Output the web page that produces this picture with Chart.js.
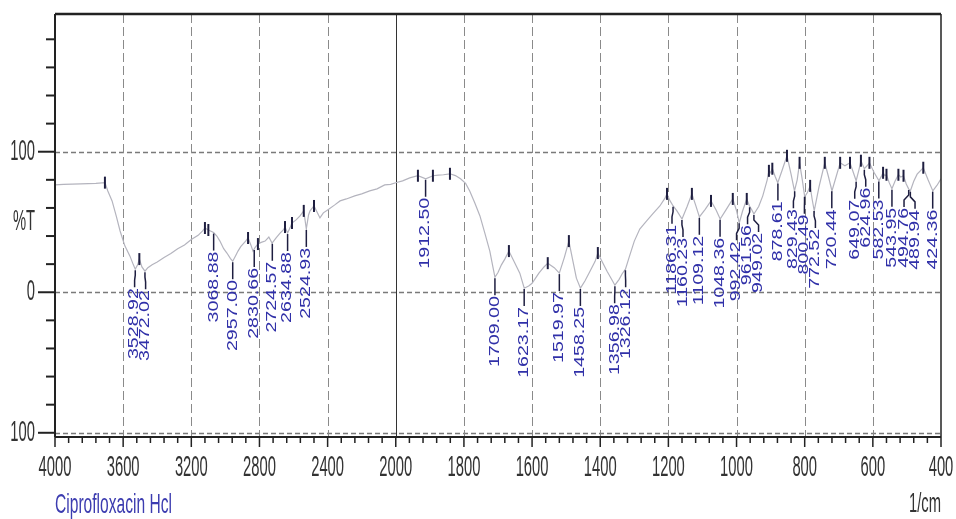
<!DOCTYPE html>
<html><head><meta charset="utf-8">
<script src="https://cdn.jsdelivr.net/npm/chart.js@4/dist/chart.umd.min.js"></script>
<style>html,body{margin:0;padding:0;background:#fff;overflow:hidden}canvas{display:block}</style>
</head><body>
<canvas id="c" width="956" height="519"></canvas>
<script>
// ---- DATA ----
const wavenumbers = [4000,3950,3850,3760,3707,3690,3665,3640,3618,3590,3560,3540,3529,3515,3505,3490,3472,3455,3430,3400,3360,3320,3280,3240,3200,3160,3135,3120,3100,3069,3050,3032,3010,2991,2970,2957,2940,2926,2910,2897,2880,2867,2850,2838,2825,2809,2790,2767,2745,2726,2700,2679,2660,2650,2635,2620,2609,2585,2562,2540,2525,2512,2503,2480,2460,2445,2425,2400,2360,2327,2290,2241,2200,2153,2110,2065,2030,2000,1980,1959,1935,1912,1891,1875,1860,1841,1825,1810,1795,1783,1768,1753,1738,1724,1715,1709,1700,1690,1680,1668,1655,1636,1623,1610,1600,1580,1565,1554,1535,1520,1505,1492,1480,1470,1458,1445,1430,1415,1407,1395,1380,1365,1357,1345,1336,1326,1315,1300,1284,1265,1246,1225,1210,1204,1195,1186,1175,1160,1145,1131,1120,1109,1092,1075,1060,1048,1030,1011,1000,992,982,970,962,955,949,935,923,910,905,900,895,887,879,866,852,840,830,822,815,807,800,792,784,778,772,758,741,730,720,708,696,682,667,657,649,640,635,625,617,610,596,582,574,570,565,560,552,544,535,525,518,510,502,495,490,480,470,452,438,424,412,400];
const transmittance = [76.4,76.8,77.1,77.5,78.0,72,65,54,43.6,33,25.7,19.5,16.4,19.5,23.6,18,15.0,17.5,19.6,21.5,24.8,27.5,31.0,33.6,37.5,40.5,43.5,45.7,44.3,42.5,40,36.4,31,27.9,24,22.1,26,29.3,32.5,34.3,36.5,38.6,33.5,29.3,32,34.3,35.5,36.4,39.3,35.0,39,42.1,44.3,46.4,42.1,46,49.3,51.5,54.3,57.9,45,55,57.9,61.4,56.5,52.9,56.5,58.6,62,65,66.4,68.6,70,72.1,73.6,76.4,76.8,77.9,79.3,81.4,82.9,80.7,82.9,83.3,83.6,84.3,83,80.7,77.5,72.1,63.5,54.3,41.5,29.3,18,10.7,14,19.5,23.6,29.3,23,13.6,2.9,4.5,6.4,13.6,18,20.7,17.5,13.6,25,36.4,22,10,2.9,8,15,22,27.9,22,15,8.5,5,9,13,16.4,25,36.4,45,50.5,55.7,61.4,67,70,65,61.4,57.9,52.1,61,70,62,53.6,59,65,58.5,52.1,59,66.4,58,49.3,58,66.4,61.4,58.5,55.7,61,68.6,80,86.4,85,87.9,82.5,77.9,87,97.1,84,72.1,80,92.1,80,67.9,71,75.7,66,57.9,75,92.1,82,72.1,82,92.1,90,92.1,85,79.3,88,93.6,87.9,90,92.1,85,79.3,83,85,83,83.6,78,73.6,79,83.6,82,82.9,77,73.6,72.1,79,84,88.6,80,72.1,76,80.7];
const peakWavenumbers = [3528.92,3472.02,3068.88,2957.00,2830.66,2724.57,2634.88,2524.93,1912.50,1709.00,1623.17,1519.97,1458.25,1356.98,1326.12,1186.31,1160.23,1109.12,1048.36,992.42,961.56,949.02,878.61,829.43,800.49,772.52,720.44,649.07,624.96,582.53,543.95,494.76,489.94,424.36];
const peakLabels = ["3528.92","3472.02","3068.88","2957.00","2830.66","2724.57","2634.88","2524.93","1912.50","1709.00","1623.17","1519.97","1458.25","1356.98","1326.12","1186.31","1160.23","1109.12","1048.36","992.42","961.56","949.02","878.61","829.43","800.49","772.52","720.44","649.07","624.96","582.53","543.95","494.76","489.94","424.36"];
const maxMarkerWavenumbers = [3707,3505,3120,3100,2867,2809,2650,2609,2540,2480,1935,1891,1841,1668,1554,1492,1407,1204,1131,1075,1011,970,905,895,852,815,784,741,696,667,635,610,570,560,525,510,452];
const xTickLabels = [4000,3600,3200,2800,2400,2000,1800,1600,1400,1200,1000,800,600,400];
const yTickValues = [-100,-80,-60,-40,-20,0,20,40,60,80,100,120,140,160,180];
const yLabelValues = [100,0,-100];
const yLabelTexts = ["100","0","100"];
const sampleName = "Ciprofloxacin Hcl";
const xUnit = "1/cm";
const yTitle = "%T";

// piecewise axis (scale change at 2000 1/cm)
function toAxis(w){ return w >= 2000 ? (4000 - w) / 400 : 5 + (2000 - w) / 200; }
function interpT(w){
  for (let i = 0; i < wavenumbers.length - 1; i++) {
    const a = wavenumbers[i], b = wavenumbers[i+1];
    if (w <= a && w >= b) {
      const f = (a - w) / (a - b);
      return transmittance[i] + f * (transmittance[i+1] - transmittance[i]);
    }
  }
  return transmittance[transmittance.length - 1];
}

const points = wavenumbers.map((w, i) => ({x: toAxis(w), y: transmittance[i]}));

const ctx0 = document.getElementById('c').getContext('2d');
const NARROW = '"Liberation Sans Narrow", "Liberation Sans", Arial, sans-serif';
ctx0.font = '18px ' + NARROW; const wN = ctx0.measureText('4000').width;
ctx0.font = '18px "Liberation Sans", Arial, sans-serif'; const wR = ctx0.measureText('4000').width;
const SX = Math.abs(wN - wR) < 0.5 ? 0.82 : 1;

function stretchText(ctx, text, x, y, align, font, color, sx, sy){
  ctx.save();
  ctx.translate(x, y);
  ctx.scale(sx, sy);
  ctx.font = font; ctx.fillStyle = color;
  ctx.textAlign = align; ctx.textBaseline = 'middle';
  ctx.fillText(text, 0, 0);
  ctx.restore();
}

const irPlugin = {
  id: 'ir',
  beforeDatasetsDraw(chart){
    const {ctx, chartArea: a, scales: {x, y}} = chart;
    ctx.save();
    ctx.strokeStyle = '#7a7a7a'; ctx.lineWidth = 1.5; ctx.setLineDash([5,3]);
    yLabelValues.forEach(v => {
      const py = Math.round(y.getPixelForValue(v)) + 0.5;
      ctx.beginPath(); ctx.moveTo(a.left, py); ctx.lineTo(a.right, py); ctx.stroke();
    });
    x.ticks.forEach(t => {
      if (t.value === 0 || t.value === 13) return;
      const px = Math.round(x.getPixelForValue(t.value)) + 0.5;
      if (t.value === 5) { ctx.setLineDash([]); ctx.strokeStyle = '#333'; ctx.lineWidth = 1; }
      else { ctx.setLineDash([9,4]); ctx.strokeStyle = '#8a8a8a'; ctx.lineWidth = 1; }
      ctx.beginPath(); ctx.moveTo(px, a.top); ctx.lineTo(px, a.bottom); ctx.stroke();
    });
    ctx.restore();
  },
  afterDatasetsDraw(chart){
    const {ctx, chartArea: a, scales: {x, y}} = chart;
    ctx.save();
    ctx.setLineDash([]);
    ctx.strokeStyle = '#222';
    ctx.lineWidth = 2.5; ctx.beginPath(); ctx.moveTo(a.left, a.top); ctx.lineTo(a.right, a.top); ctx.stroke();
    ctx.lineWidth = 1.5; ctx.beginPath(); ctx.moveTo(a.right, a.top); ctx.lineTo(a.right, a.bottom); ctx.stroke();
    ctx.lineWidth = 2; ctx.beginPath(); ctx.moveTo(a.left, a.top); ctx.lineTo(a.left, a.bottom); ctx.stroke();
    ctx.lineWidth = 2; ctx.beginPath(); ctx.moveTo(a.left, a.bottom); ctx.lineTo(a.right, a.bottom); ctx.stroke();
    ctx.lineWidth = 2;
    y.ticks.forEach(t => {
      const py = y.getPixelForValue(t.value);
      const major = yLabelValues.includes(t.value);
      ctx.beginPath(); ctx.moveTo(a.left - (major ? 17 : 9), py); ctx.lineTo(a.left, py); ctx.stroke();
    });
    ctx.lineWidth = 1.5;
    for (let k = 0; k <= 65; k++) {
      const px = x.getPixelForValue(k * 0.2);
      const major = k % 5 === 0;
      ctx.beginPath(); ctx.moveTo(px, a.bottom); ctx.lineTo(px, a.bottom + (major ? 10 : 6)); ctx.stroke();
    }
    const axisFont = '18px ' + NARROW;
    x.ticks.forEach((t, i) => {
      stretchText(ctx, String(xTickLabels[i]), x.getPixelForValue(t.value), a.bottom + 31, 'center', axisFont, '#333', SX, 1.65);
    });
    yLabelValues.forEach((v, i) => {
      stretchText(ctx, yLabelTexts[i], 35, y.getPixelForValue(v), 'right', axisFont, '#333', SX, 1.6);
    });
    stretchText(ctx, yTitle, 24, y.getPixelForValue(50), 'center', axisFont, '#333', SX, 1.6);
    stretchText(ctx, sampleName, a.left, 505, 'left', '19px ' + NARROW, '#3c3cb0', SX, 1.5);
    stretchText(ctx, xUnit, a.right, 505, 'right', '18px ' + NARROW, '#333', SX, 1.5);

    ctx.strokeStyle = '#1e1e40'; ctx.lineWidth = 2;
    maxMarkerWavenumbers.forEach(w => {
      const px = x.getPixelForValue(toAxis(w)), py = y.getPixelForValue(interpT(w));
      ctx.beginPath(); ctx.moveTo(px, py - 6); ctx.lineTo(px, py + 6); ctx.stroke();
    });
    const items = peakWavenumbers.map((w, i) => {
      const px = x.getPixelForValue(toAxis(w));
      return {px, lx: px, py: y.getPixelForValue(interpT(w)), text: peakLabels[i]};
    }).sort((p, q) => p.px - q.px);
    const GAP = 11;
    for (let it = 0; it < 60; it++) {
      for (let i = 0; i < items.length - 1; i++) {
        const d = items[i+1].lx - items[i].lx;
        if (d < GAP) { const s = (GAP - d) / 2; items[i].lx -= s; items[i+1].lx += s; }
      }
    }
    items.forEach(p => {
      ctx.strokeStyle = '#1e1e40'; ctx.lineWidth = 1.5;
      ctx.beginPath();
      ctx.moveTo(p.px, p.py + 1);
      ctx.lineTo(p.px, p.py + 6);
      ctx.lineTo(p.lx, p.py + 11);
      ctx.lineTo(p.lx, p.py + 18);
      ctx.stroke();
      ctx.save();
      ctx.translate(p.lx, p.py + 19);
      ctx.rotate(-Math.PI / 2);
      ctx.scale(1.4, 1);
      ctx.font = '14px "Liberation Sans", Arial, sans-serif';
      ctx.fillStyle = '#3030a8';
      ctx.textAlign = 'right'; ctx.textBaseline = 'middle';
      ctx.fillText(p.text, 0, 0);
      ctx.restore();
    });
    ctx.restore();
  }
};

new Chart(document.getElementById('c'), {
  type: 'line',
  data: { datasets: [{ data: points, borderColor: '#b4b4be', borderWidth: 1.2, pointRadius: 0, fill: false, tension: 0 }] },
  options: {
    responsive: false, devicePixelRatio: 1, animation: false,
    layout: { padding: { left: 0, right: 15, top: 14, bottom: 0 } },
    plugins: { legend: { display: false }, tooltip: { enabled: false }, title: { display: false } },
    scales: {
      x: {
        type: 'linear', min: 0, max: 13, position: 'bottom',
        afterBuildTicks: s => { s.ticks = xTickLabels.map(w => ({ value: toAxis(w) })); },
        afterFit: s => { s.height = 82; },
        ticks: { display: false }, grid: { display: false }, border: { display: false }
      },
      y: {
        type: 'linear', min: -103, max: 198, position: 'left',
        afterBuildTicks: s => { s.ticks = yTickValues.map(v => ({ value: v })); },
        afterFit: s => { s.width = 55; },
        ticks: { display: false }, grid: { display: false }, border: { display: false }
      }
    }
  },
  plugins: [irPlugin]
});
</script></body></html>
